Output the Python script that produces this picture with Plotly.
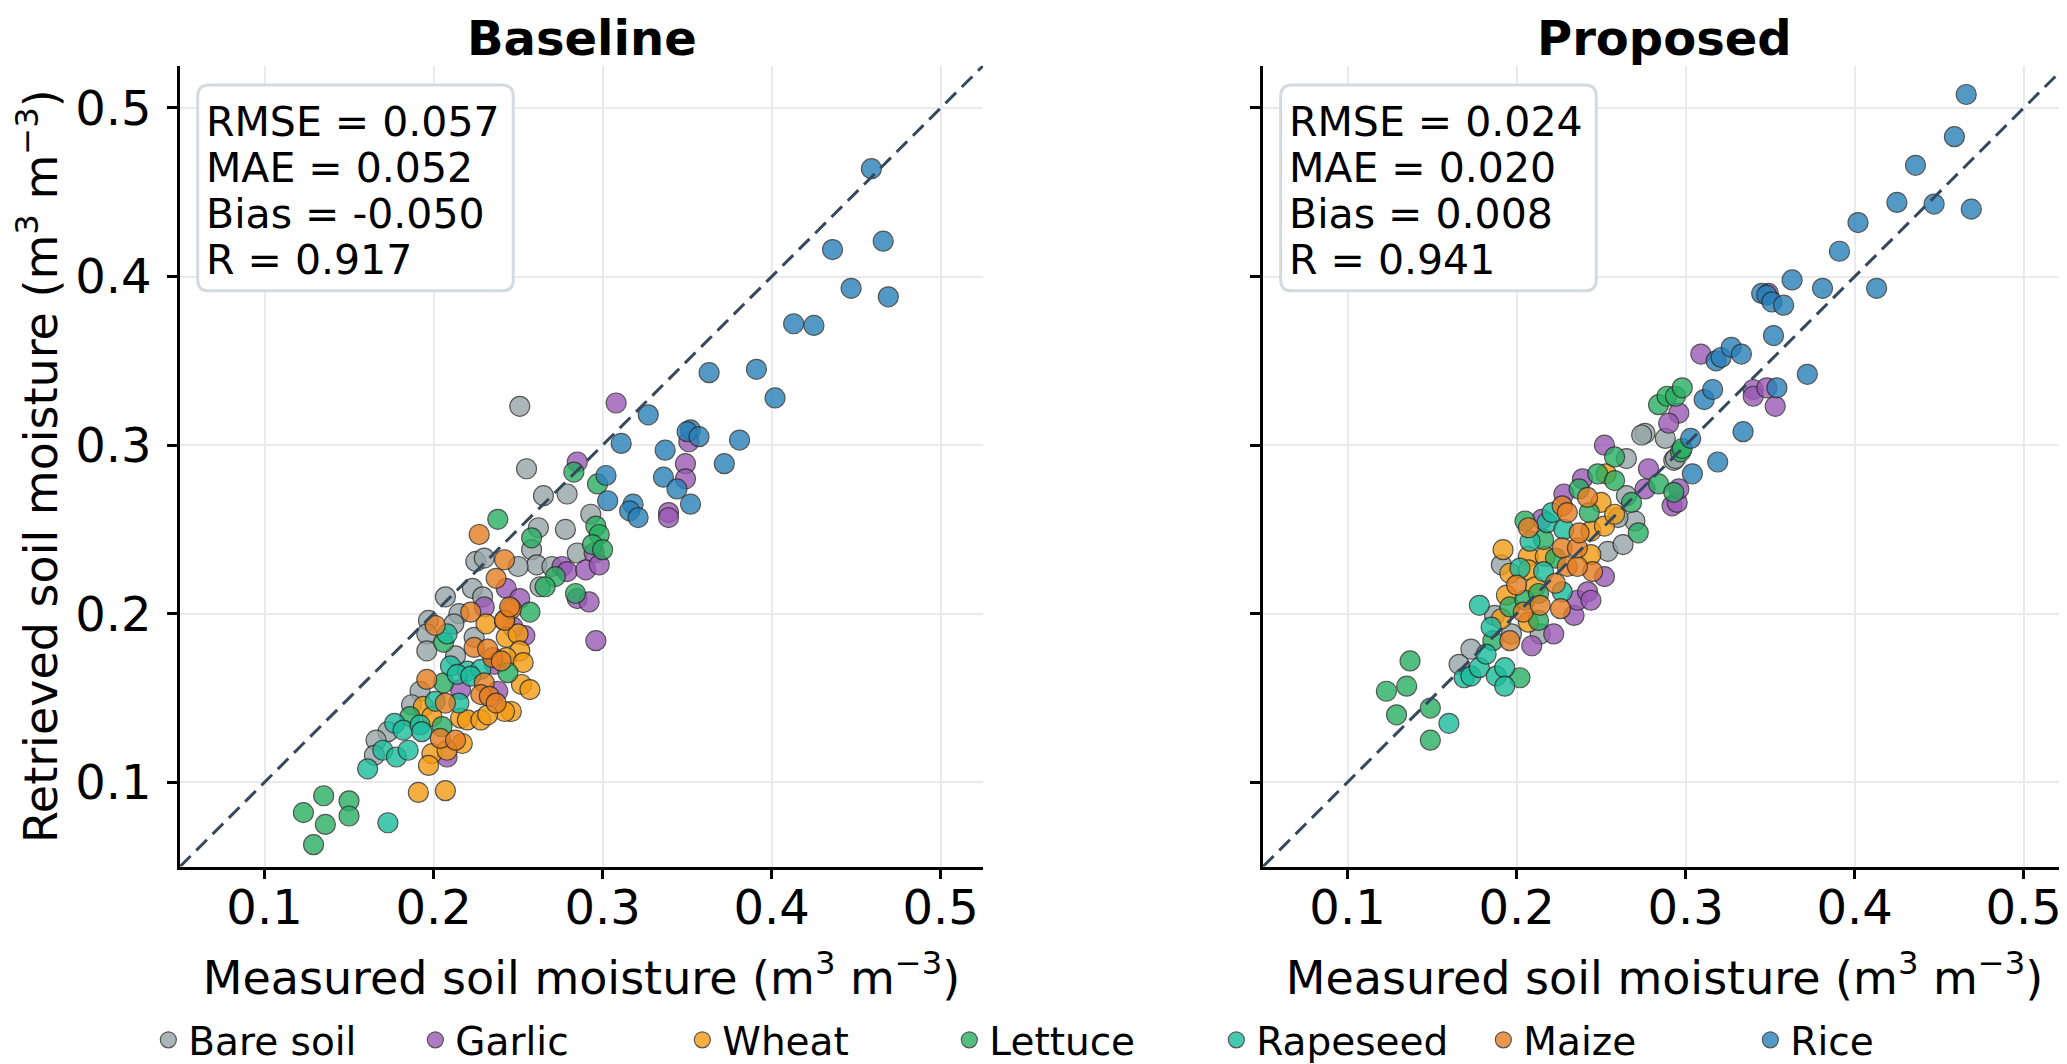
import plotly.graph_objects as go

# crops in legend / drawing order
CROPS = ["Bare soil", "Garlic", "Wheat", "Lettuce", "Rapeseed", "Maize", "Rice"]
CROP_COLORS = ["#95a5a6", "#9b59b6", "#f39c12", "#27ae60", "#1abc9c", "#e67e22", "#2980b9"]

AX_RANGE = [0.05, 0.525]
TICKS = [0.1, 0.2, 0.3, 0.4, 0.5]

METRIC_NAMES = ["RMSE", "MAE", "Bias", "R"]
BASE_METRICS = ["0.057", "0.052", "-0.050", "0.917"]
PROP_METRICS = ["0.024", "0.020", "0.008", "0.941"]

# (measured, retrieved)
BASE_BARE = [(0.279, 0.271), (0.293, 0.259), (0.278, 0.250), (0.285, 0.236), (0.251, 0.323),
             (0.255, 0.286), (0.265, 0.270), (0.262, 0.251), (0.258, 0.238), (0.261, 0.229),
             (0.250, 0.228), (0.225, 0.231), (0.230, 0.233), (0.270, 0.228), (0.263, 0.216),
             (0.207, 0.210), (0.223, 0.215), (0.229, 0.210), (0.215, 0.200), (0.197, 0.196),
             (0.196, 0.188), (0.196, 0.178), (0.224, 0.186), (0.212, 0.194), (0.213, 0.175),
             (0.192, 0.154), (0.187, 0.146), (0.173, 0.130), (0.166, 0.125), (0.165, 0.116)]
BASE_GARLIC = [(0.308, 0.325), (0.351, 0.302), (0.349, 0.289), (0.349, 0.280), (0.339, 0.260),
               (0.339, 0.257), (0.285, 0.290), (0.295, 0.236), (0.276, 0.228), (0.279, 0.225),
               (0.290, 0.226), (0.298, 0.229), (0.285, 0.209), (0.292, 0.207), (0.296, 0.184),
               (0.243, 0.215), (0.251, 0.209), (0.230, 0.204), (0.254, 0.187), (0.247, 0.192),
               (0.236, 0.170), (0.216, 0.155), (0.238, 0.154), (0.208, 0.115)]
BASE_WHEAT = [(0.231, 0.194), (0.242, 0.196), (0.243, 0.186), (0.250, 0.188), (0.251, 0.178),
              (0.243, 0.174), (0.253, 0.171), (0.252, 0.158), (0.257, 0.155), (0.246, 0.142),
              (0.242, 0.142), (0.194, 0.145), (0.199, 0.139), (0.216, 0.138), (0.220, 0.137),
              (0.228, 0.137), (0.232, 0.140), (0.217, 0.123), (0.199, 0.117), (0.208, 0.119),
              (0.197, 0.110), (0.191, 0.094), (0.207, 0.095)]
BASE_LETTUCE = [(0.283, 0.284), (0.297, 0.277), (0.296, 0.252), (0.298, 0.247), (0.294, 0.241),
                (0.300, 0.238), (0.238, 0.256), (0.258, 0.245), (0.272, 0.222), (0.266, 0.216),
                (0.284, 0.212), (0.257, 0.201), (0.206, 0.183), (0.244, 0.165), (0.206, 0.159),
                (0.186, 0.139), (0.205, 0.133), (0.135, 0.092), (0.123, 0.082), (0.150, 0.089),
                (0.150, 0.080), (0.136, 0.075), (0.129, 0.063)]
BASE_RAPESEED = [(0.208, 0.188), (0.210, 0.169), (0.220, 0.166), (0.228, 0.167), (0.214, 0.164),
                 (0.222, 0.163), (0.201, 0.148), (0.215, 0.147), (0.177, 0.135), (0.182, 0.131),
                 (0.192, 0.134), (0.193, 0.130), (0.170, 0.119), (0.178, 0.115), (0.185, 0.119),
                 (0.161, 0.108), (0.173, 0.076)]
BASE_MAIZE = [(0.227, 0.247), (0.242, 0.232), (0.237, 0.221), (0.246, 0.203), (0.222, 0.201),
              (0.201, 0.193), (0.224, 0.180), (0.235, 0.174), (0.242, 0.196), (0.245, 0.204),
              (0.232, 0.179), (0.240, 0.172), (0.196, 0.161), (0.230, 0.159), (0.228, 0.152),
              (0.233, 0.151), (0.237, 0.147), (0.207, 0.147), (0.204, 0.126), (0.213, 0.125)]
BASE_RICE = [(0.459, 0.464), (0.466, 0.421), (0.436, 0.416), (0.447, 0.393), (0.469, 0.388),
             (0.413, 0.372), (0.425, 0.371), (0.363, 0.343), (0.391, 0.345), (0.402, 0.328),
             (0.327, 0.318), (0.352, 0.309), (0.350, 0.308), (0.357, 0.305), (0.311, 0.301),
             (0.381, 0.303), (0.337, 0.297), (0.372, 0.289), (0.302, 0.282), (0.336, 0.281),
             (0.344, 0.274), (0.303, 0.267), (0.318, 0.265), (0.316, 0.261), (0.321, 0.257),
             (0.352, 0.265)]

# (measured, retrieved)
PROP_BARE = [(0.166, 0.170), (0.173, 0.179), (0.187, 0.199), (0.197, 0.188), (0.214, 0.188),
             (0.191, 0.229), (0.254, 0.237), (0.263, 0.241), (0.270, 0.255), (0.260, 0.257),
             (0.265, 0.270), (0.265, 0.292), (0.293, 0.291), (0.276, 0.307), (0.274, 0.306),
             (0.288, 0.304), (0.294, 0.292)]
PROP_GARLIC = [(0.209, 0.181), (0.222, 0.188), (0.234, 0.199), (0.236, 0.208), (0.242, 0.213),
               (0.244, 0.208), (0.252, 0.222), (0.239, 0.280), (0.252, 0.300), (0.278, 0.286),
               (0.276, 0.274), (0.292, 0.264), (0.295, 0.266), (0.215, 0.256), (0.228, 0.271),
               (0.309, 0.354), (0.296, 0.319), (0.290, 0.313), (0.296, 0.274), (0.349, 0.390),
               (0.340, 0.333), (0.340, 0.329), (0.348, 0.334), (0.353, 0.323)]
PROP_WHEAT = [(0.191, 0.197), (0.194, 0.211), (0.196, 0.224), (0.192, 0.238), (0.207, 0.234),
              (0.207, 0.226), (0.207, 0.195), (0.211, 0.216), (0.217, 0.234), (0.244, 0.235),
              (0.244, 0.249), (0.252, 0.252), (0.250, 0.266), (0.258, 0.259), (0.253, 0.283)]
PROP_LETTUCE = [(0.137, 0.172), (0.135, 0.157), (0.123, 0.154), (0.129, 0.140), (0.149, 0.144),
                (0.149, 0.125), (0.186, 0.184), (0.202, 0.162), (0.196, 0.204), (0.213, 0.196),
                (0.205, 0.208), (0.213, 0.212), (0.223, 0.233), (0.272, 0.248), (0.205, 0.255),
                (0.216, 0.244), (0.243, 0.260), (0.237, 0.274), (0.248, 0.283), (0.258, 0.279),
                (0.268, 0.266), (0.258, 0.293), (0.284, 0.277), (0.293, 0.272), (0.297, 0.296),
                (0.284, 0.324), (0.289, 0.329), (0.294, 0.329), (0.298, 0.334), (0.298, 0.298)]
PROP_RAPESEED = [(0.160, 0.135), (0.169, 0.162), (0.173, 0.163), (0.178, 0.168), (0.182, 0.176),
                 (0.185, 0.192), (0.178, 0.205), (0.188, 0.163), (0.193, 0.168), (0.193, 0.157),
                 (0.202, 0.227), (0.216, 0.225), (0.227, 0.213), (0.208, 0.243), (0.218, 0.254),
                 (0.228, 0.250), (0.221, 0.260)]
PROP_MAIZE = [(0.196, 0.184), (0.200, 0.217), (0.204, 0.201), (0.214, 0.205), (0.223, 0.218),
              (0.226, 0.203), (0.245, 0.225), (0.230, 0.228), (0.236, 0.228), (0.227, 0.239),
              (0.236, 0.239), (0.207, 0.251), (0.237, 0.248), (0.227, 0.264), (0.230, 0.260),
              (0.242, 0.269)]
PROP_RICE = [(0.318, 0.350), (0.321, 0.352), (0.327, 0.358), (0.333, 0.354), (0.311, 0.327),
             (0.316, 0.333), (0.303, 0.304), (0.304, 0.283), (0.319, 0.290), (0.334, 0.308),
             (0.466, 0.508), (0.459, 0.483), (0.436, 0.466), (0.425, 0.444), (0.447, 0.443),
             (0.469, 0.440), (0.402, 0.432), (0.391, 0.415), (0.363, 0.398), (0.381, 0.393),
             (0.413, 0.393), (0.345, 0.390), (0.348, 0.389), (0.351, 0.385), (0.358, 0.383),
             (0.352, 0.365), (0.372, 0.342), (0.354, 0.334)]

BASE = [BASE_BARE, BASE_GARLIC, BASE_WHEAT, BASE_LETTUCE, BASE_RAPESEED, BASE_MAIZE, BASE_RICE]
PROP = [PROP_BARE, PROP_GARLIC, PROP_WHEAT, PROP_LETTUCE, PROP_RAPESEED, PROP_MAIZE, PROP_RICE]

W, H = 2067, 1064
FONT = "DejaVu Sans"
UNIT = "(m<sup>3</sup> m<sup>\u22123</sup>)"

fig = go.Figure()

for col, panel in enumerate([BASE, PROP], start=1):
    for crop, color, pts in zip(CROPS, CROP_COLORS, panel):
        fig.add_trace(go.Scatter(
            x=[p[0] for p in pts], y=[p[1] for p in pts],
            mode="markers", name=crop, legendgroup=crop, showlegend=(col == 1),
            marker=dict(size=20, color=color, opacity=0.8,
                        line=dict(color="#2c2c2c", width=1.2)),
            xaxis="x" if col == 1 else "x2", yaxis="y" if col == 1 else "y2",
        ))

axis_style = dict(
    range=AX_RANGE, tickvals=TICKS, tickformat=".1f",
    showgrid=True, gridcolor="#e8eaed", gridwidth=2, zeroline=False,
    showline=True, linecolor="black", linewidth=2.5,
    ticks="outside", ticklen=10, tickwidth=2.5, tickcolor="black",
    tickfont=dict(size=48, color="black"),
)
x_title = dict(text="Measured soil moisture " + UNIT, font=dict(size=46, color="black"), standoff=28)

# left panel / right panel placement in pixels
y_dom = [1 - 861 / H, 1 - 58 / H]
fig.update_layout(
    xaxis=dict(axis_style, domain=[172 / W, 975 / W], anchor="y", title=x_title, ticklabelstandoff=-13),
    yaxis=dict(axis_style, domain=y_dom, anchor="x", ticklabelstandoff=6,
               title=dict(text="Retrieved soil moisture " + UNIT, font=dict(size=46, color="black"), standoff=12)),
    xaxis2=dict(axis_style, domain=[1255 / W, 2058 / W], anchor="y2", title=x_title, ticklabelstandoff=-13),
    yaxis2=dict(axis_style, domain=y_dom, anchor="x2", showticklabels=False),
)

for xa, ya, title, vals in [("x", "y", "Baseline", BASE_METRICS), ("x2", "y2", "Proposed", PROP_METRICS)]:
    # 1:1 line
    fig.add_shape(type="line", xref=xa, yref=ya, x0=AX_RANGE[0], y0=AX_RANGE[0],
                  x1=AX_RANGE[1], y1=AX_RANGE[1], layer="above",
                  line=dict(color="#34495e", width=3, dash="15px,8px"))
    # rounded stats box
    x0, x1, y0, y1, r = 0.022, 0.415, 0.719, 0.976, 0.014
    path = (f"M {x0 + r},{y0} L {x1 - r},{y0} Q {x1},{y0} {x1},{y0 + r} "
            f"L {x1},{y1 - r} Q {x1},{y1} {x1 - r},{y1} L {x0 + r},{y1} "
            f"Q {x0},{y1} {x0},{y1 - r} L {x0},{y0 + r} Q {x0},{y0} {x0 + r},{y0} Z")
    fig.add_shape(type="path", path=path, xref=f"{xa} domain", yref=f"{ya} domain",
                  layer="above", fillcolor="rgba(255,255,255,0.92)",
                  line=dict(color="#d3dbdf", width=3))
    for i, (name, v) in enumerate(zip(METRIC_NAMES, vals)):
        fig.add_annotation(text=f"{name} = {v}", xref=f"{xa} domain", yref=f"{ya} domain",
                           x=0.03, y=0.930 - i * 0.0573, xanchor="left", yanchor="middle",
                           showarrow=False, font=dict(size=41, color="black"))
    fig.add_annotation(text=f"<b>{title}</b>", xref=f"{xa} domain", yref="paper",
                       x=0.5, y=1 - 30 / H, xanchor="center", yanchor="middle",
                       showarrow=False, font=dict(size=48, color="black"))

fig.update_layout(
    width=W, height=H, autosize=False,
    margin=dict(l=0, r=0, t=0, b=0),
    paper_bgcolor="white", plot_bgcolor="white",
    font=dict(family=FONT, color="black"),
    legend=dict(orientation="h", x=0.52, xanchor="center", y=1 - 1035 / H, yanchor="middle",
                font=dict(size=39, color="black"), entrywidth=222, entrywidthmode="pixels",
                bgcolor="rgba(0,0,0,0)"),
)

fig.write_html("out.html")
